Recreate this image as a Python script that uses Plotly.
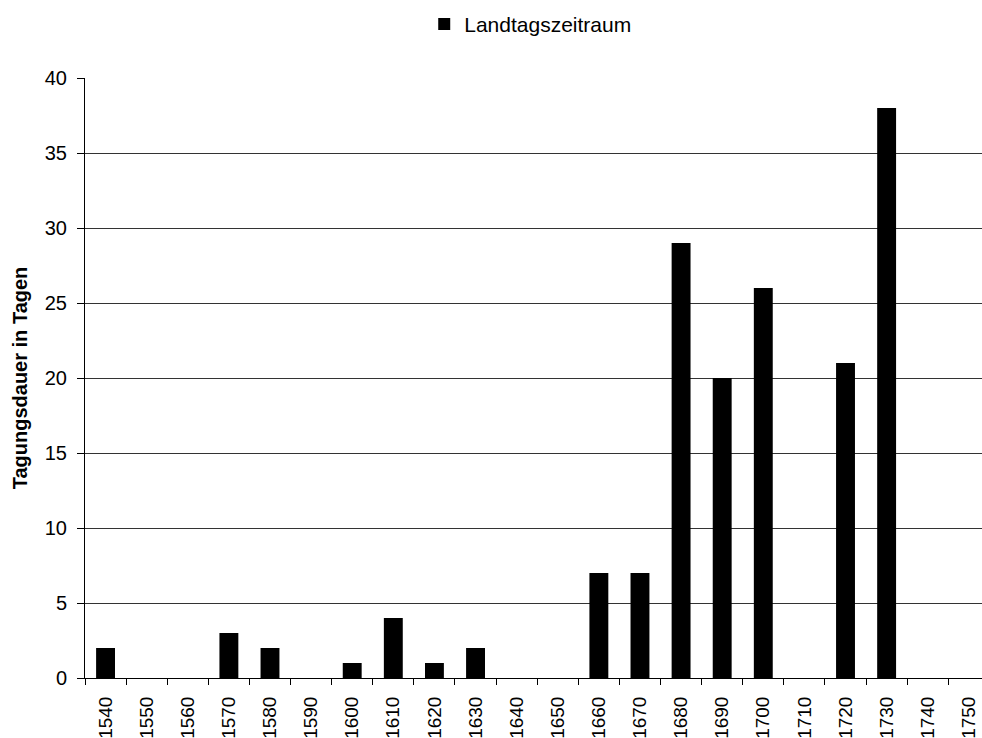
import plotly.graph_objects as go

years = ["1540", "1550", "1560", "1570", "1580", "1590", "1600", "1610", "1620", "1630",
         "1640", "1650", "1660", "1670", "1680", "1690", "1700", "1710", "1720", "1730",
         "1740", "1750"]
values = [2, 0, 0, 3, 2, 0, 1, 4, 1, 2, 0, 0, 7, 7, 29, 20, 26, 0, 21, 38, 0, 0]
series_name = "Landtagszeitraum"
y_title = "Tagungsdauer in Tagen"

fig = go.Figure()
fig.add_trace(go.Bar(
    x=years, y=values, name=series_name,
    marker=dict(color="black", line=dict(width=0)),
    width=0.46, showlegend=True,
))

fig.update_layout(
    width=982, height=738,
    margin=dict(l=85, r=0, t=78, b=60),
    paper_bgcolor="white", plot_bgcolor="white",
    font=dict(family="Liberation Sans, Arial, sans-serif", color="black", size=20),
    showlegend=True,
    legend=dict(orientation="h", xref="container", yref="container",
                x=0.432, xanchor="left", y=0.967, yanchor="middle",
                font=dict(size=21), bgcolor="rgba(0,0,0,0)", itemwidth=30),
    bargap=0.54,
)
fig.update_xaxes(
    type="category", range=[-0.5, 21.32], automargin=False,
    tickangle=-90, tickfont=dict(size=19),
    ticks="outside", tickson="boundaries", ticklen=6, tickcolor="black",
    ticklabelstandoff=10,
    showline=True, linecolor="black", linewidth=1,
    showgrid=False, zeroline=False,
)
fig.update_yaxes(
    range=[0, 40], dtick=5, tickfont=dict(size=20), automargin=False,
    ticks="outside", ticklen=7, tickcolor="black",
    ticklabelstandoff=6,
    showline=True, linecolor="black", linewidth=1,
    showgrid=True, gridcolor="#333", gridwidth=1, zeroline=False,
    title=dict(text="<b>" + y_title + "</b>", font=dict(size=20), standoff=11),
)

fig.write_html("out.html", config={"displayModeBar": False},
               post_script="document.body.style.margin='0';document.body.style.overflow='hidden';")
